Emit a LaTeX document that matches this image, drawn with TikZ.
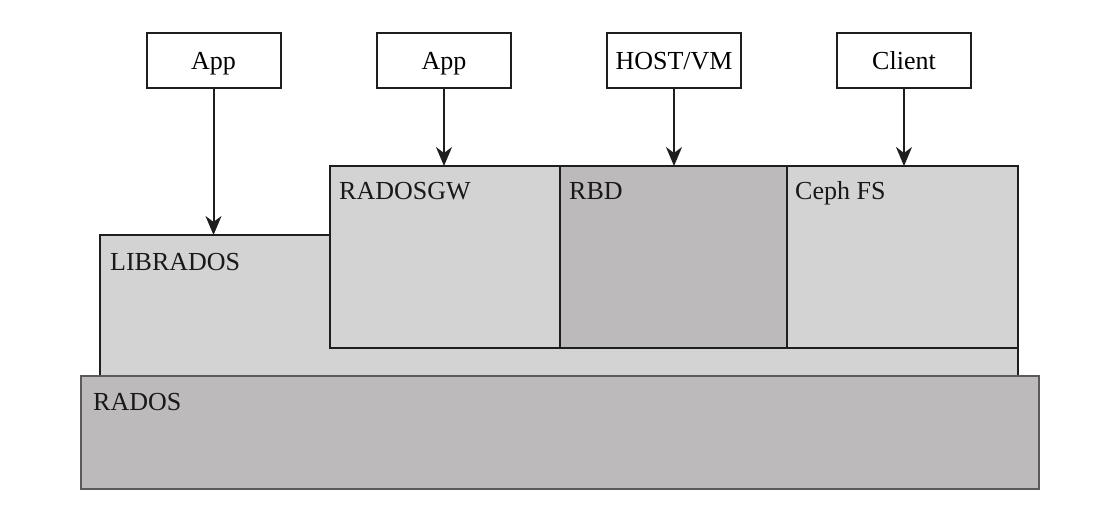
\documentclass[tikz,border=0pt]{standalone}
\usepackage{fontspec}
\setmainfont{Liberation Serif}
\usetikzlibrary{arrows.meta}
\definecolor{lightfill}{HTML}{D3D3D3}
\definecolor{darkfill}{HTML}{BCBABB}
\definecolor{edgec}{HTML}{1E1E1E}
\definecolor{radosedge}{HTML}{5A5A5A}
\begin{document}
\begin{tikzpicture}[x=1pt,y=-1pt,
  topbox/.style={draw=edgec, line width=2pt, fill=white, minimum width=134pt, minimum height=55pt, inner sep=0pt, outer sep=0pt, text height=19pt, text depth=0pt, font=\fontsize{26}{30}\selectfont},
  layer/.style={draw=edgec, line width=1.8pt, inner sep=0pt, outer sep=0pt, anchor=north west},
  lbl/.style={anchor=base west, inner sep=0pt, font=\fontsize{26}{30}\selectfont, text=black!90},
  arr/.style={draw=edgec, line width=2pt, -{Stealth[length=19pt,width=16pt,inset=6pt]}}]
\useasboundingbox (0,0) rectangle (1102,513);
% layers
\node[layer, fill=lightfill, minimum width=918pt, minimum height=141pt] (librados) at (100,235) {};
\node[layer, fill=lightfill, minimum width=230pt, minimum height=182pt] (radosgw) at (330,166) {};
\node[layer, fill=darkfill, minimum width=227pt, minimum height=182pt] (rbd) at (560,166) {};
\node[layer, fill=lightfill, minimum width=231pt, minimum height=182pt] (cephfs) at (787,166) {};
\node[layer, draw=radosedge, fill=darkfill, minimum width=958pt, minimum height=113pt] (rados) at (81,376) {};
% labels
\node[lbl] (tlibrados) at ([xshift=10pt,yshift=-35pt]librados.north west) {LIBRADOS};
\node[lbl] (tradosgw) at ([xshift=9pt,yshift=-34pt]radosgw.north west) {RADOSGW};
\node[lbl] (trbd) at ([xshift=9pt,yshift=-34pt]rbd.north west) {RBD};
\node[lbl] (tcephfs) at ([xshift=8pt,yshift=-34pt]cephfs.north west) {Ceph FS};
\node[lbl] (trados) at ([xshift=12pt,yshift=-34pt]rados.north west) {RADOS};
% top boxes
\node[topbox] (app1) at (213.5,60.5) {App};
\node[topbox] (app2) at (444,60.5) {App};
\node[topbox] (host) at (674,60.5) {HOST/VM};
\node[topbox] (client) at (904,60.5) {Client};
% arrows
\draw[arr] (app1.south) -- (app1.south |- librados.north);
\draw[arr] (app2.south) -- (app2.south |- radosgw.north);
\draw[arr] (host.south) -- (host.south |- rbd.north);
\draw[arr] (client.south) -- (client.south |- cephfs.north);
\end{tikzpicture}
\end{document}
